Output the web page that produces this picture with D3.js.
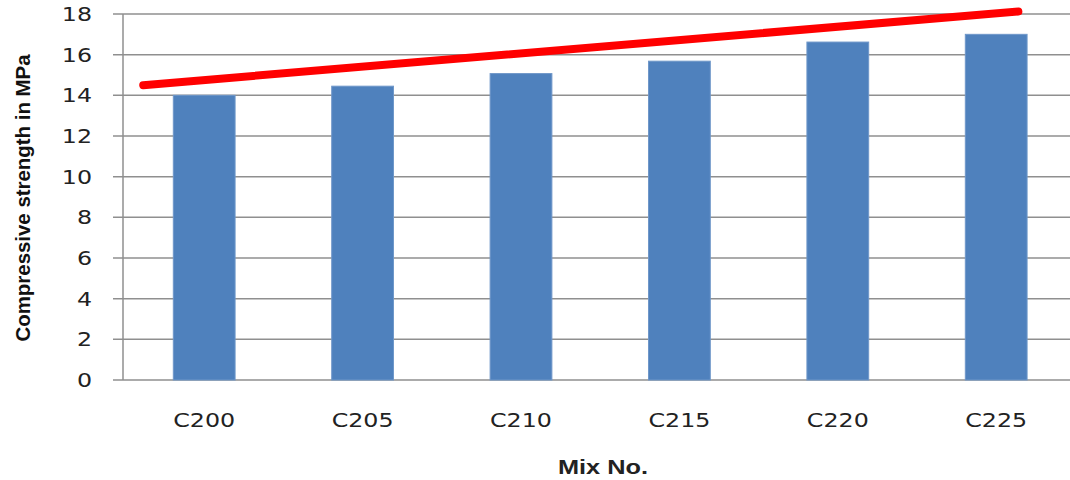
<!DOCTYPE html>
<html>
<head>
<meta charset="utf-8">
<script src="https://cdn.jsdelivr.net/npm/d3@7"></script>
<style>
  html, body { margin: 0; padding: 0; background: #fff; }
  svg { display: block; }
</style>
</head>
<body>
<svg id="chart" width="1070" height="480"></svg>
<script>
// Compressive strength per mix
const mixes = ["C200", "C205", "C210", "C215", "C220", "C225"];
const strength = [14.0, 14.45, 15.07, 15.68, 16.62, 17.0];
const yTicks = [0, 2, 4, 6, 8, 10, 12, 14, 16, 18];
// Trend line end points: [position along the category axis (in category widths), MPa]
const trendPoints = [[0.115, 14.5], [5.64, 18.12]];

const svg = d3.select("#chart");
const W = 1070, H = 480;
const axisX = 123;
const bandStart = 125, bandStep = 158.4;
const plotTop = 14, plotBottom = 380;

const x = d3.scaleBand()
  .domain(mixes)
  .range([bandStart, bandStart + bandStep * mixes.length])
  .paddingInner(0.61)
  .paddingOuter(0.305);

const xPos = d3.scaleLinear()
  .domain([0, mixes.length])
  .range([bandStart, bandStart + bandStep * mixes.length]);

const y = d3.scaleLinear()
  .domain([0, 18])
  .range([plotBottom, plotTop]);

const gridColor = "#8f8f8f";
const textColor = "#222";
const stretch = 1.25;

// Gridlines with outward tick stubs
svg.append("g")
  .selectAll("line")
  .data(yTicks)
  .join("line")
  .attr("x1", axisX - 10)
  .attr("x2", W)
  .attr("y1", d => y(d))
  .attr("y2", d => y(d))
  .attr("stroke", gridColor)
  .attr("stroke-width", 1.5);

// Y axis line
svg.append("line")
  .attr("x1", axisX).attr("x2", axisX)
  .attr("y1", y(18)).attr("y2", y(0))
  .attr("stroke", gridColor)
  .attr("stroke-width", 1.5);

// Y tick labels
svg.append("g")
  .selectAll("text")
  .data(yTicks)
  .join("text")
  .attr("transform", d => `translate(${axisX - 31},${y(d)}) scale(${stretch},1)`)
  .attr("text-anchor", "end")
  .attr("dy", "0.36em")
  .attr("font-family", "DejaVu Sans, sans-serif")
  .attr("font-size", 19)
  .attr("fill", textColor)
  .text(d => d);

// Bars
svg.append("g")
  .selectAll("rect")
  .data(mixes.map((m, i) => ({ m, v: strength[i] })))
  .join("rect")
  .attr("x", d => x(d.m))
  .attr("y", d => y(d.v))
  .attr("width", x.bandwidth())
  .attr("height", d => y(0) - y(d.v))
  .attr("fill", "#4f81bd")
  .attr("stroke", "#6f97c9")
  .attr("stroke-width", 1);

// X tick labels
svg.append("g")
  .selectAll("text")
  .data(mixes)
  .join("text")
  .attr("transform", d => `translate(${x(d) + x.bandwidth() / 2},${plotBottom + 40}) scale(${stretch},1)`)
  .attr("text-anchor", "middle")
  .attr("dy", "0.36em")
  .attr("font-family", "DejaVu Sans, sans-serif")
  .attr("font-size", 19)
  .attr("fill", textColor)
  .text(d => d);

// Trend line
svg.append("path")
  .datum(trendPoints)
  .attr("d", d3.line().x(d => xPos(d[0])).y(d => y(d[1])))
  .attr("fill", "none")
  .attr("stroke", "#ff0000")
  .attr("stroke-width", 8)
  .attr("stroke-linecap", "round");

// Axis titles
svg.append("text")
  .attr("x", 603)
  .attr("y", 467)
  .attr("dy", "0.36em")
  .attr("text-anchor", "middle")
  .attr("font-family", "Liberation Sans, Arial, sans-serif")
  .attr("font-weight", "bold")
  .attr("font-size", 20)
  .attr("textLength", 90)
  .attr("lengthAdjust", "spacingAndGlyphs")
  .attr("fill", textColor)
  .text("Mix No.");

svg.append("text")
  .attr("transform", "translate(22,198) rotate(-90)")
  .attr("dy", "0.36em")
  .attr("text-anchor", "middle")
  .attr("font-family", "Liberation Sans Narrow, Liberation Sans, Arial, sans-serif")
  .attr("font-weight", "bold")
  .attr("font-size", 21)
  .attr("textLength", 287)
  .attr("lengthAdjust", "spacingAndGlyphs")
  .attr("fill", "#111")
  .text("Compressive strength in MPa");
</script>
</body>
</html>
